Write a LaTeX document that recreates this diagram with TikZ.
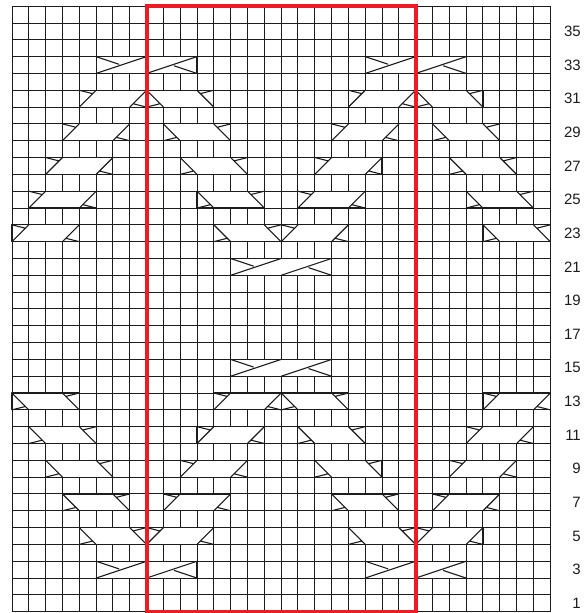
\documentclass[tikz,border=0pt]{standalone}
\usepackage{fontspec}
\newfontfamily\numfont{Liberation Sans}
\definecolor{chartred}{RGB}{237,28,36}
\definecolor{gridcol}{RGB}{30,27,28}
\begin{document}
\begin{tikzpicture}[x=16.82pt,y=16.82pt,
  gridline/.style={draw=gridcol,line width=0.95pt},
  symline/.style={draw=gridcol,line width=1.1pt,line cap=round,line join=round},
  redframe/.style={draw=chartred,line width=4pt},
  rownum/.style={anchor=east,font=\numfont\fontsize{15}{15}\selectfont,text=gridcol,inner sep=0pt}]
\useasboundingbox (-12pt,-1.3pt) rectangle (576pt,611.7pt);
% grid
\foreach \i in {0,...,32} \draw[gridline] (\i,0) -- (\i,36);
\foreach \j in {0,...,36} \draw[gridline] (0,\j) -- (32,\j);
% travelling cable symbols (4 stitches wide)
\foreach \k/\a/\b in {0/4/8,1/3/9,2/2/10,3/1/11,4/0/12}{
  \pgfmathtruncatemacro\rb{5+2*\k}
  \pgfmathtruncatemacro\rt{31-2*\k}
  \foreach \c/\r/\sx/\sy in {\a/\rb/1/1,\b/\rb/-1/1,\a/\rt/1/-1,\b/\rt/-1/-1}{
    \foreach \off in {0,16}{
      \begin{scope}[shift={(\c+\off+2,\r-0.5)},xscale=\sx,yscale=\sy]
        \fill[white] (-2,-0.5) rectangle (2,0.5);
        \draw[symline] (-2,-0.5) rectangle (2,0.5);
        \draw[symline] (-2,0.5) -- (-1,-0.5) (1,0.5) -- (2,-0.5)
                       (-2,-0.5) -- (-1.2,-0.3) (2,0.5) -- (1.2,0.3);
      \end{scope}
    }
  }
}
% cross symbols (6 stitches wide)
\foreach \c/\r in {5/3,21/3,5/33,21/33,13/15,13/21}{
  \begin{scope}[shift={(\c+3,\r-0.5)}]
    \fill[white] (-3,-0.5) rectangle (3,0.5);
    \draw[symline] (-3,-0.5) rectangle (3,0.5);
    \draw[symline] (-3,-0.5) -- (0,0.5) (0,-0.5) -- (3,0.5)
                   (-3,0.5) -- (-1.65,0.05) (1.65,-0.05) -- (3,-0.5);
  \end{scope}
}
% red frame
\draw[redframe] (8,0) rectangle (24,36);
% row numbers
\foreach \r in {1,3,...,35} \node[rownum] (n\r) at (33.83,\r-0.5) {\r};
\end{tikzpicture}
\end{document}
